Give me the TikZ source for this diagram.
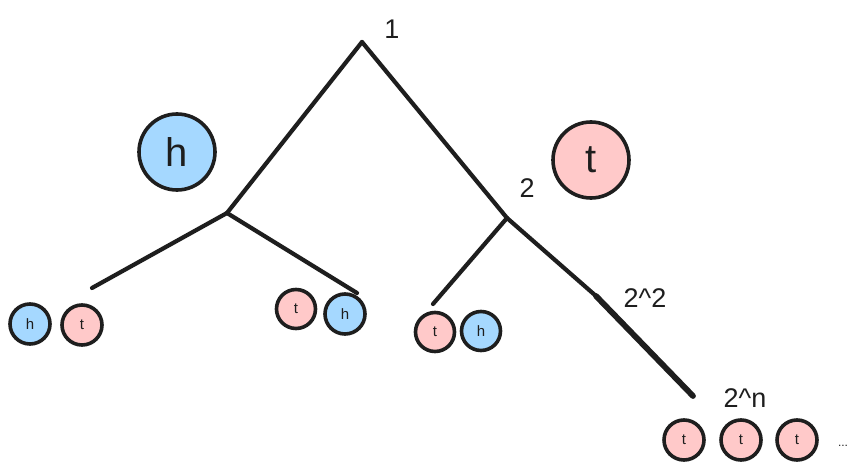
\documentclass[tikz,border=0pt]{standalone}
\usepackage{fontspec}
\setmainfont{Liberation Sans}
\definecolor{hblue}{HTML}{A5D8FF}
\definecolor{tred}{HTML}{FFC9C9}
\definecolor{ink}{HTML}{1E1E1E}
\begin{document}
\begin{tikzpicture}[x=1pt,y=-1pt,
  branch/.style={draw=ink,line width=4.2pt,line cap=round},
  thick branch/.style={draw=ink,line width=5.8pt,line cap=round},
  coin/.style={circle,draw=ink,line width=3.6pt,inner sep=0pt,minimum size=#1,text=ink},
  hcoin/.style={coin=#1,fill=hblue},
  tcoin/.style={coin=#1,fill=tred},
  lbl/.style={text=ink,font=\fontsize{27}{29}\selectfont,inner sep=0pt}]
\useasboundingbox (0,0) rectangle (861,473);
% branch points
\coordinate (root) at (362,42);
\coordinate (L) at (227,213);
\coordinate (R) at (507,218);
\coordinate (LL) at (92,288);
\coordinate (LR) at (357,293);
\coordinate (RL) at (433,304);
\coordinate (RM) at (596,296);
\coordinate (RR) at (693,396);
\draw[branch] (root) -- (L);
\draw[branch] (root) -- (R);
\draw[branch] (L) -- (LL);
\draw[branch] (L) -- (LR);
\draw[branch] (R) -- (RL);
\draw[branch] (R) -- (RM);
\draw[thick branch] (RM) -- (RR);
% big coins
\node[hcoin=76pt,font=\fontsize{40}{42}\selectfont] (bigh) at (177,152) {h};
\node[tcoin=76pt,font=\fontsize{40}{42}\selectfont] (bigt) at (591,160) {t};
% small coins
\tikzset{sm/.style={font=\fontsize{15}{16}\selectfont}}
\node[hcoin=40pt,sm] (c1) at (30,324) {h};
\node[tcoin=40pt,sm] (c2) at (82,325) {t};
\node[tcoin=39pt,sm] (c3) at (296,309) {t};
\node[hcoin=40pt,sm] (c4) at (345,314) {h};
\node[tcoin=39pt,sm] (c5) at (435,332) {t};
\node[hcoin=39pt,sm] (c6) at (481,331) {h};
\node[tcoin=40pt,sm] (c7) at (684,440) {t};
\node[tcoin=40pt,sm] (c8) at (741,440) {t};
\node[tcoin=40pt,sm] (c9) at (797,440) {t};
\node[text=ink,font=\fontsize{12}{13}\selectfont] (dots) at (843,446) {...};
% labels
\node[lbl] (n1) at (392,29) {1};
\node[lbl] (n2) at (527,188) {2};
\node[lbl] (n3) at (645,298) {2\textasciicircum 2};
\node[lbl] (n4) at (745,398) {2\textasciicircum n};
\end{tikzpicture}
\end{document}
